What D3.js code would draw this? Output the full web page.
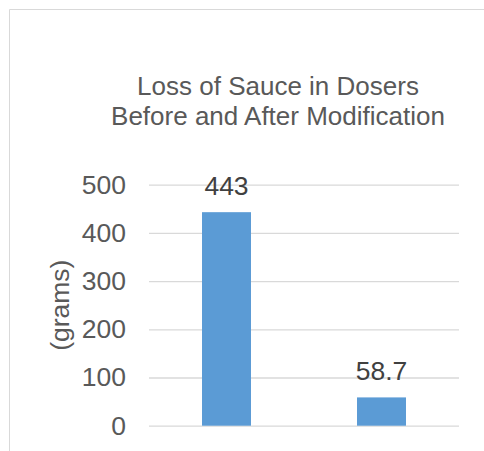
<!DOCTYPE html>
<html>
<head>
<meta charset="utf-8">
<script src="https://cdn.jsdelivr.net/npm/d3@7"></script>
<style>
  html, body { margin: 0; padding: 0; background: #fff; }
  svg text { font-family: "Liberation Sans", Arial, sans-serif; }
</style>
</head>
<body>
<svg id="chart" width="484" height="451"></svg>
<script>
// Loss of sauce per doser, before and after the modification
const categories = ["Before", "After"];
const lossGrams = [443, 58.7];
const valueLabels = ["443", "58.7"];
const yTicks = [0, 100, 200, 300, 400, 500];
const titleLines = ["Loss of Sauce in Dosers", "Before and After Modification"];
const yAxisTitle = "(grams)";

const svg = d3.select("#chart");

// chart area frame (light border)
svg.append("path")
  .attr("d", "M9.5,451 L9.5,9.5 L484,9.5")
  .attr("fill", "none")
  .attr("stroke", "#d9d9d9")
  .attr("stroke-width", 1);

const plot = { left: 149, right: 459, top: 184.7, bottom: 425.7 };

const x = d3.scaleBand()
  .domain(categories)
  .range([plot.left, plot.right])
  .paddingInner(0.684)
  .paddingOuter(0.342);

const y = d3.scaleLinear()
  .domain([0, 500])
  .range([plot.bottom, plot.top]);

// gridlines + tick labels via a left axis
const yAxis = d3.axisLeft(y)
  .tickValues(yTicks)
  .tickSize(-(plot.right - plot.left))
  .tickPadding(23)
  .tickFormat(d3.format("d"));

const gAxis = svg.append("g")
  .attr("transform", `translate(${plot.left},0)`)
  .call(yAxis);
gAxis.select(".domain").remove();
gAxis.selectAll(".tick line").attr("stroke", "#d9d9d9").attr("stroke-width", 1.3);
gAxis.selectAll(".tick text")
  .attr("fill", "#595959")
  .attr("font-size", 26.5)
  .style("font-family", "Liberation Sans, Arial, sans-serif");

// bars
svg.append("g").selectAll("rect")
  .data(lossGrams)
  .join("rect")
  .attr("x", (d, i) => x(categories[i]))
  .attr("width", x.bandwidth())
  .attr("y", d => y(d))
  .attr("height", d => y(0) - y(d))
  .attr("fill", "#5b9bd5");

// value labels above bars
svg.append("g").selectAll("text")
  .data(lossGrams)
  .join("text")
  .attr("x", (d, i) => x(categories[i]) + x.bandwidth() / 2)
  .attr("y", d => y(d) - 17)
  .attr("text-anchor", "middle")
  .attr("fill", "#404040")
  .attr("font-size", 26.5)
  .text((d, i) => valueLabels[i]);

// title
svg.append("text")
  .attr("text-anchor", "middle")
  .attr("fill", "#595959")
  .attr("font-size", 26)
  .selectAll("tspan")
  .data(titleLines)
  .join("tspan")
  .attr("x", 278)
  .attr("y", (d, i) => 95 + i * 30)
  .text(d => d);

// y axis title
svg.append("text")
  .attr("transform", `translate(69,${(plot.top + plot.bottom) / 2}) rotate(-90)`)
  .attr("text-anchor", "middle")
  .attr("fill", "#595959")
  .attr("font-size", 26.5)
  .text(yAxisTitle);
</script>
</body>
</html>
